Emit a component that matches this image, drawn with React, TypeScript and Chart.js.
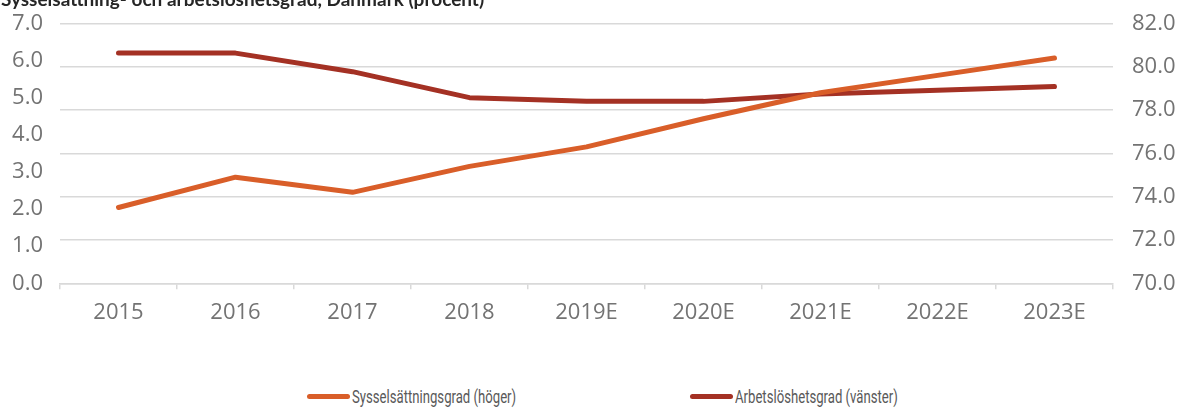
import React, { useEffect, useRef } from "react";
import { Chart, registerables } from "chart.js";

Chart.register(...registerables);

const title = "Sysselsättning- och arbetslöshetsgrad, Danmark (procent)";
const categories = ["2015", "2016", "2017", "2018", "2019E", "2020E", "2021E", "2022E", "2023E"];
const employmentRate = [73.5, 74.9, 74.2, 75.4, 76.3, 77.6, 78.8, 79.6, 80.4];
const unemploymentRate = [6.2, 6.2, 5.7, 5.0, 4.9, 4.9, 5.1, 5.2, 5.3];
const employmentLabel = "Sysselsättningsgrad (höger)";
const unemploymentLabel = "Arbetslöshetsgrad (vänster)";
const leftAxis = { min: 0, max: 7, step: 1 };
const rightAxis = { min: 70, max: 82, step: 2 };

const ORANGE = "#d95e29";
const DARKRED = "#a43124";
const GRID = "#d9d9d9";
const TICK = "#737373";

const W = 1183;
const H = 340;

export default function App() {
  const ref = useRef<HTMLCanvasElement | null>(null);

  useEffect(() => {
    if (!ref.current) return;
    const tickFont = { family: "'Open Sans', sans-serif", size: 22 };
    const chart = new Chart(ref.current, {
      type: "line",
      data: {
        labels: categories,
        datasets: [
          {
            label: employmentLabel,
            data: employmentRate,
            yAxisID: "yRight",
            borderColor: ORANGE,
            backgroundColor: ORANGE,
            borderWidth: 5,
            pointRadius: 0,
            pointHoverRadius: 0,
            borderCapStyle: "round",
            borderJoinStyle: "round",
            tension: 0,
          },
          {
            label: unemploymentLabel,
            data: unemploymentRate,
            yAxisID: "yLeft",
            borderColor: DARKRED,
            backgroundColor: DARKRED,
            borderWidth: 5,
            pointRadius: 0,
            pointHoverRadius: 0,
            borderCapStyle: "round",
            borderJoinStyle: "round",
            tension: 0,
          },
        ],
      },
      options: {
        responsive: false,
        animation: false,
        devicePixelRatio: 1,
        layout: { padding: { top: 23.4, left: 0, right: 0, bottom: 0 } },
        plugins: {
          legend: { display: false },
          title: { display: false },
          tooltip: { enabled: false },
        },
        scales: {
          x: {
            type: "category",
            offset: true,
            grid: {
              display: true,
              drawOnChartArea: false,
              drawTicks: true,
              tickLength: 6,
              offset: true,
              color: GRID,
              lineWidth: 1.5,
            },
            border: { display: true, color: GRID, width: 1.5 },
            ticks: {
              font: tickFont,
              color: TICK,
              padding: 10,
              maxRotation: 0,
              autoSkip: false,
            },
            afterFit: (scale: any) => {
              scale.height = H - 283.3;
            },
          },
          yLeft: {
            type: "linear",
            position: "left",
            min: leftAxis.min,
            max: leftAxis.max,
            grid: { display: false, drawTicks: false },
            border: { display: false },
            ticks: {
              stepSize: leftAxis.step,
              font: tickFont,
              color: TICK,
              padding: 17,
              callback: (v: any) => Number(v).toFixed(1),
            },
            afterFit: (scale: any) => {
              scale.width = 60;
              scale.paddingTop = 0;
              scale.paddingBottom = 0;
            },
          },
          yRight: {
            type: "linear",
            position: "right",
            min: rightAxis.min,
            max: rightAxis.max,
            grid: { display: true, drawTicks: false, color: GRID, lineWidth: 1.5 },
            border: { display: false },
            ticks: {
              stepSize: rightAxis.step,
              font: tickFont,
              color: TICK,
              padding: 19,
              callback: (v: any) => Number(v).toFixed(1),
            },
            afterFit: (scale: any) => {
              scale.width = 70;
              scale.paddingTop = 0;
              scale.paddingBottom = 0;
            },
          },
        },
      },
    });
    return () => chart.destroy();
  }, []);

  const legendFont = "Roboto, sans-serif";
  const item = (left: number, color: string, text: string) => (
    <div
      style={{
        position: "absolute",
        left,
        top: 386,
        height: 20,
        display: "flex",
        alignItems: "center",
        whiteSpace: "nowrap",
      }}
    >
      <span
        style={{
          display: "inline-block",
          width: 43,
          height: 5,
          borderRadius: 3,
          background: color,
          marginRight: 2,
        }}
      />
      <span
        style={{
          fontFamily: legendFont,
          fontSize: 18,
          color: "#595959",
          display: "inline-block",
          transform: "scaleX(0.73)",
          transformOrigin: "left center",
        }}
      >
        {text}
      </span>
    </div>
  );

  return (
    <div style={{ position: "absolute", left: 0, top: 0, width: W, height: 408, overflow: "hidden", background: "#fff" }}>
      <canvas ref={ref} width={W} height={H} style={{ position: "absolute", left: 0, top: 0 }} />
      <div
        style={{
          position: "absolute",
          left: 1,
          top: -11,
          fontFamily: "Lato, sans-serif",
          fontWeight: 700,
          fontSize: 19,
          lineHeight: "19px",
          color: "#262626",
          whiteSpace: "nowrap",
        }}
      >
        {title}
      </div>
      {item(307, ORANGE, employmentLabel)}
      {item(690, DARKRED, unemploymentLabel)}
    </div>
  );
}
